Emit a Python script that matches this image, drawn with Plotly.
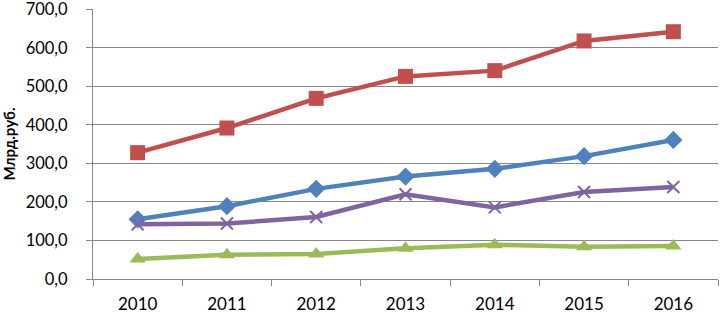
import plotly.graph_objects as go

years = ["2010", "2011", "2012", "2013", "2014", "2015", "2016"]
blue_vals = [155, 189, 234, 266, 286, 319, 361]
red_vals = [328, 392, 469, 526, 541, 618, 642]
green_vals = [52, 63, 65, 80, 89, 84, 86]
purple_vals = [142, 144, 161, 220, 186, 226, 239]
y_ticks = [0, 100, 200, 300, 400, 500, 600, 700]
y_tick_labels = ["0,0", "100,0", "200,0", "300,0", "400,0", "500,0", "600,0", "700,0"]
y_title = "Млрд.руб."

fig = go.Figure()
series = [
    (blue_vals, "#4F81BD", "diamond", 14, None),
    (red_vals, "#C0504D", "square", 15, None),
    (green_vals, "#9BBB59", "triangle-up", 14, None),
    (purple_vals, "#8064A2", "x-thin-open", 12, 2),
]
for vals, col, sym, sz, lw in series:
    marker = dict(symbol=sym, size=sz, color=col)
    if lw:
        marker["line"] = dict(color=col, width=lw)
    else:
        marker["line"] = dict(width=0)
    fig.add_trace(go.Scatter(
        x=years, y=vals, mode="lines+markers",
        line=dict(color=col, width=4.5),
        marker=marker, showlegend=False, cliponaxis=False,
    ))

axis_col = "#878787"
fig.update_layout(
    width=720, height=313,
    margin=dict(l=93, r=2, t=9, b=34),
    paper_bgcolor="white", plot_bgcolor="white",
    font=dict(family="Lato, sans-serif", size=17, color="#000000"),
    xaxis=dict(
        type="category", range=[-0.5, 6.5], tickson="boundaries",
        ticks="outside", ticklen=6, tickcolor=axis_col, tickwidth=1,
        showline=True, linecolor=axis_col, linewidth=1,
        showgrid=False, zeroline=False, automargin=False,
        tickfont=dict(size=17), ticklabelstandoff=10,
        ticklabeloverflow="allow",
    ),
    yaxis=dict(
        range=[0, 701], tickvals=y_ticks, ticktext=y_tick_labels,
        ticks="outside", ticklen=6, tickcolor=axis_col, tickwidth=1,
        showline=True, linecolor=axis_col, linewidth=1,
        showgrid=True, gridcolor=axis_col, gridwidth=1,
        zeroline=False, automargin=False,
        tickfont=dict(size=16.5), ticklabelstandoff=15,
        ticklabeloverflow="allow",
        title=dict(text="<b>" + y_title + "</b>", font=dict(size=15), standoff=6),
    ),
)
fig.write_html(
    "out.html",
    config={"displayModeBar": False},
    post_script="document.body.style.margin='0';document.body.style.padding='0';",
)
